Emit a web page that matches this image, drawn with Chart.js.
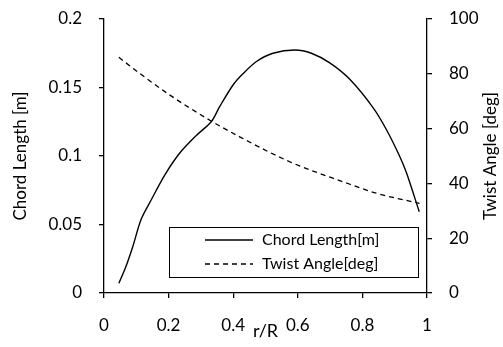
<!DOCTYPE html>
<html>
<head>
<meta charset="utf-8">
<script src="https://cdn.jsdelivr.net/npm/chart.js@4/dist/chart.umd.min.js"></script>
<style>
  html, body { margin: 0; padding: 0; background: #fff; }
</style>
</head>
<body>
<canvas id="chart1" width="503" height="347"></canvas>
<script>
// chord length along the blade
const chordR = [0.046, 0.067, 0.089, 0.115, 0.146, 0.188, 0.234, 0.286, 0.332, 0.358, 0.400, 0.430,
  0.472, 0.523, 0.591, 0.642, 0.699, 0.761, 0.834, 0.875, 0.916, 0.937, 0.976];
const chordLength = [0.0071, 0.0188, 0.0338, 0.0538, 0.0679, 0.0861, 0.102, 0.115, 0.125, 0.136, 0.152, 0.160,
  0.169, 0.175, 0.1774, 0.175, 0.168, 0.156, 0.135, 0.119, 0.0995, 0.0874, 0.0593];

// twist angle along the blade
const twistR = [0.046, 0.110, 0.203, 0.317, 0.420, 0.575, 0.740, 0.844, 0.977];
const twistAngle = [86.0, 80.2, 72.3, 63.8, 57.0, 47.9, 40.6, 36.4, 32.7];

const seriesLabels = ['Chord Length[m]', 'Twist Angle[deg]'];
const xTitle = 'r/R';
const yLeftTitle = 'Chord Length [m]';
const yRightTitle = 'Twist Angle [deg]';

const FONT = 'Lato, "DejaVu Sans", sans-serif';

const toPoints = (xs, ys) => xs.map((x, i) => ({ x: x, y: ys[i] }));
const fmt = v => String(+Number(v).toFixed(2));

// legend box inside the plot area + right axis title reading bottom-to-top
const boxLegend = {
  id: 'boxLegend',
  afterDraw(chart) {
    const ctx = chart.ctx;
    const area = chart.chartArea;
    const w = 249, h = 50;
    const x0 = area.right - 9 - w;
    const y0 = area.bottom - 16 - h;
    ctx.save();
    ctx.fillStyle = '#fff';
    ctx.fillRect(x0, y0, w, h);
    ctx.strokeStyle = '#000';
    ctx.lineWidth = 1;
    ctx.strokeRect(x0 + 0.5, y0 + 0.5, w, h);
    ctx.font = '16px ' + FONT;
    ctx.textBaseline = 'middle';
    ctx.fillStyle = '#000';
    chart.data.datasets.forEach((ds, i) => {
      const y = y0 + 13 + i * 24;
      ctx.beginPath();
      ctx.setLineDash(ds.borderDash || []);
      ctx.lineWidth = 1.3;
      ctx.moveTo(x0 + 36, y);
      ctx.lineTo(x0 + 84, y);
      ctx.stroke();
      ctx.setLineDash([]);
      ctx.fillText(ds.label, x0 + 93, y);
    });

    // right title
    ctx.translate(chart.width - 12, (area.top + area.bottom) / 2);
    ctx.rotate(-Math.PI / 2);
    ctx.textAlign = 'center';
    ctx.font = '17px ' + FONT;
    ctx.fillText(yRightTitle, 0, 0);
    ctx.restore();
  }
};

const axisGrid = {
  display: true,
  drawOnChartArea: false,
  drawTicks: true,
  tickLength: 5,
  color: '#000',
  lineWidth: 1.3
};

const fixY = w => scale => {
  scale.width = w;
  scale.paddingTop = 0;
  scale.paddingBottom = 0;
};

new Chart(document.getElementById('chart1'), {
  type: 'line',
  data: {
    datasets: [
      {
        label: seriesLabels[0],
        data: toPoints(chordR, chordLength),
        yAxisID: 'y',
        borderColor: '#000',
        borderWidth: 1.4,
        pointRadius: 0,
        fill: false,
        tension: 0.3
      },
      {
        label: seriesLabels[1],
        data: toPoints(twistR, twistAngle),
        yAxisID: 'y1',
        borderColor: '#000',
        borderWidth: 1.3,
        borderDash: [5, 4],
        pointRadius: 0,
        fill: false,
        cubicInterpolationMode: 'monotone'
      }
    ]
  },
  options: {
    responsive: false,
    animation: false,
    layout: { padding: { top: 19, left: 0, right: 0, bottom: 0 } },
    scales: {
      x: {
        type: 'linear',
        min: 0,
        max: 1,
        grid: axisGrid,
        border: { display: true, color: '#000', width: 1.3 },
        ticks: { stepSize: 0.2, padding: 17, color: '#000', font: { family: FONT, size: 17 }, callback: fmt, maxRotation: 0 },
        title: { display: true, text: xTitle, color: '#000', font: { family: FONT, size: 18 }, padding: { top: 0, bottom: 5 } },
        afterFit(scale) { scale.height = 54; scale.paddingLeft = 0; scale.paddingRight = 0; }
      },
      y: {
        position: 'left',
        min: 0,
        max: 0.2,
        grid: axisGrid,
        border: { display: true, color: '#000', width: 1.3 },
        ticks: { stepSize: 0.05, padding: 17, color: '#000', font: { family: FONT, size: 17 }, callback: fmt },
        title: { display: true, text: yLeftTitle, color: '#000', font: { family: FONT, size: 17 }, padding: { top: 10, bottom: 0 } },
        afterFit: fixY(104)
      },
      y1: {
        position: 'right',
        min: 0,
        max: 100,
        grid: axisGrid,
        border: { display: true, color: '#000', width: 1.3 },
        ticks: { stepSize: 20, padding: 17, color: '#000', font: { family: FONT, size: 17 }, callback: fmt },
        title: { display: false },
        afterFit: fixY(76)
      }
    },
    plugins: {
      legend: { display: false },
      tooltip: { enabled: false }
    }
  },
  plugins: [boxLegend]
});
</script>
</body>
</html>
